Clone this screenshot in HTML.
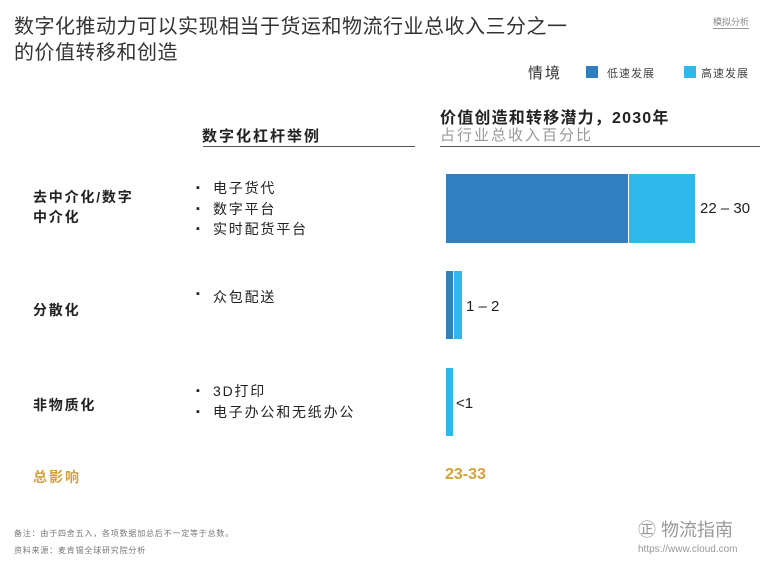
<!DOCTYPE html>
<html><head><meta charset="utf-8"><style>
body{margin:0;width:766px;height:564px;background:#fff;position:relative;overflow:hidden;font-family:"Liberation Sans","Noto Sans CJK SC",sans-serif;color:#222}
.a{position:absolute;white-space:nowrap}
.b{font-weight:bold}
.l{font-size:14px;letter-spacing:1.8px}
</style></head><body>
<div class="a" style="left:14px;top:14px;font-size:20px;line-height:26px;color:#333;letter-spacing:0.5px">数字化推动力可以实现相当于货运和物流行业总收入三分之一<br>的价值转移和创造</div>
<div class="a" style="left:713px;top:15px;font-size:9px;color:#888;border-bottom:1px solid #999">模拟分析</div>
<div class="a" style="left:528px;top:62px;font-size:15px;color:#333;letter-spacing:2px">情境</div>
<div class="a" style="left:586px;top:66px;width:12px;height:12px;background:#2f7fc1"></div>
<div class="a" style="left:607px;top:65px;font-size:11px;color:#444;letter-spacing:1px">低速发展</div>
<div class="a" style="left:684px;top:66px;width:12px;height:12px;background:#2fb8ec"></div>
<div class="a" style="left:701px;top:65px;font-size:11px;color:#444;letter-spacing:1px">高速发展</div>
<div class="a b" style="left:440px;top:104px;font-size:16px;color:#222;letter-spacing:1.2px">价值创造和转移潜力，2030年</div>
<div class="a" style="left:440px;top:124px;font-size:15px;color:#999;letter-spacing:2px">占行业总收入百分比</div>
<div class="a b" style="left:202px;top:125px;font-size:15px;color:#222;letter-spacing:2px">数字化杠杆举例</div>
<div class="a" style="left:203px;top:146px;width:212px;height:1px;background:#555"></div>
<div class="a" style="left:440px;top:146px;width:320px;height:1px;background:#555"></div>

<div class="a b l" style="left:33px;top:187px;line-height:20px">去中介化/数字<br>中介化</div>
<div class="a" style="left:196px;top:178px;font-size:11px;line-height:20.5px">▪<br>▪<br>▪</div>
<div class="a l" style="left:213px;top:178px;line-height:20.5px">电子货代<br>数字平台<br>实时配货平台</div>
<div class="a b l" style="left:33px;top:300px">分散化</div>
<div class="a" style="left:196px;top:288px;font-size:11px">▪</div>
<div class="a l" style="left:213px;top:287px">众包配送</div>
<div class="a b l" style="left:33px;top:395px">非物质化</div>
<div class="a" style="left:196px;top:381px;font-size:11px;line-height:20.5px">▪<br>▪</div>
<div class="a l" style="left:213px;top:381px;line-height:20.5px">3D打印<br>电子办公和无纸办公</div>

<div class="a" style="left:446px;top:174px;width:182px;height:69px;background:#2f7fc1"></div>
<div class="a" style="left:629px;top:174px;width:66px;height:69px;background:#2fb8ec"></div>
<div class="a" style="left:700px;top:200px;font-size:15px">22 – 30</div>
<div class="a" style="left:446px;top:271px;width:7px;height:68px;background:#2f7fc1"></div>
<div class="a" style="left:454px;top:271px;width:8px;height:68px;background:#2fb8ec"></div>
<div class="a" style="left:466px;top:298px;font-size:15px">1 – 2</div>
<div class="a" style="left:446px;top:368px;width:7px;height:68px;background:#2fb8ec"></div>
<div class="a" style="left:456px;top:395px;font-size:15px">&lt;1</div>

<div class="a b" style="left:33px;top:467px;font-size:14px;color:#d4a03c;letter-spacing:2px">总影响</div>
<div class="a b" style="left:445px;top:466px;font-size:16px;color:#d4a03c">23-33</div>
<div class="a" style="left:14px;top:528px;font-size:8px;color:#777;letter-spacing:0.8px">备注：由于四舍五入，各项数据加总后不一定等于总数。</div>
<div class="a" style="left:14px;top:545px;font-size:8px;color:#777;letter-spacing:0.8px">资料来源：麦肯锡全球研究院分析</div>
<div class="a" style="left:638px;top:516px;font-size:18px;color:#999">㊣ 物流指南</div>
<div class="a" style="left:638px;top:544px;font-size:10px;color:#999">https://www.cloud.com</div>
</body></html>
